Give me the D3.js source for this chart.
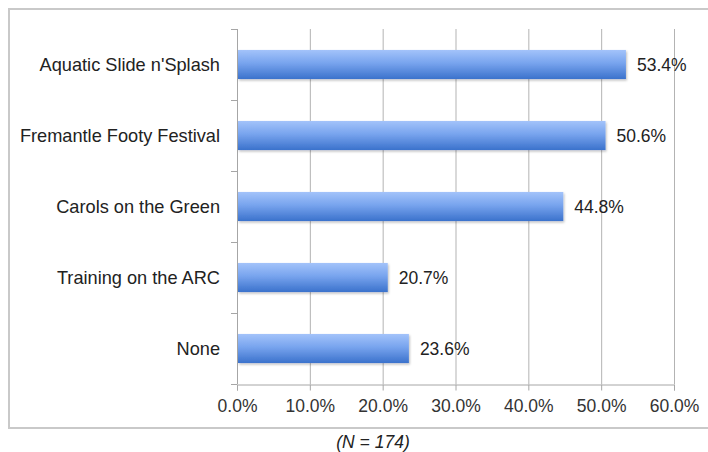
<!DOCTYPE html>
<html><head><meta charset="utf-8">
<script src="https://cdn.jsdelivr.net/npm/d3@7"></script>
<style>body{margin:0;background:#fff}text{font-family:"Liberation Sans",Arial,sans-serif}</style>
</head><body><svg id="c" width="708" height="452"></svg>
<script>
const categories = ["Aquatic Slide n'Splash","Fremantle Footy Festival","Carols on the Green","Training on the ARC","None"];
const values = [53.4, 50.6, 44.8, 20.7, 23.6];
const xTicks = [0,10,20,30,40,50,60];
const note = "(N = 174)";

const svg = d3.select("#c");
const m = {l:237, r:674, t:29, b:384};
const x = d3.scaleLinear().domain([0,60]).range([m.l,m.r]);
const y = d3.scaleBand().domain(categories).range([m.t,m.b]).paddingInner(0.59).paddingOuter(0.295);
const FS = 17.5;

const defs = svg.append("defs");
const g = defs.append("linearGradient").attr("id","bg").attr("x1",0).attr("y1",0).attr("x2",0).attr("y2",1);
g.append("stop").attr("offset","0%").attr("stop-color","#a3c3fa");
g.append("stop").attr("offset","45%").attr("stop-color","#78a4ee");
g.append("stop").attr("offset","100%").attr("stop-color","#3b72cc");
const f = defs.append("filter").attr("id","sh").attr("x","-5%").attr("y","-20%").attr("width","110%").attr("height","160%");
f.append("feDropShadow").attr("dx",1).attr("dy",1.5).attr("stdDeviation",1).attr("flood-color","#000").attr("flood-opacity",0.25);

// border
svg.append("rect").attr("x",9).attr("y",9).attr("width",710).attr("height",419)
  .attr("fill","none").attr("stroke","#c9c9c9").attr("stroke-width",2);

// gridlines
svg.append("g").selectAll("line").data(xTicks.slice(1)).join("line")
  .attr("x1",d=>x(d)+0.5).attr("x2",d=>x(d)+0.5).attr("y1",m.t).attr("y2",m.b)
  .attr("stroke","#b3b3b3").attr("stroke-width",1);

// x axis
const xa = svg.append("g").attr("transform",`translate(0,${m.b+0.5})`)
  .call(d3.axisBottom(x).tickValues(xTicks).tickFormat(d=>d.toFixed(1)+"%").tickSize(6).tickPadding(9));
xa.select(".domain").attr("stroke","#a6a6a6");
xa.selectAll(".tick line").attr("stroke","#a6a6a6");
xa.selectAll("text").attr("font-size",FS).attr("fill","#333").attr("font-family","Liberation Sans, Arial, sans-serif");

// y axis line and ticks at band boundaries
const yb = svg.append("g");
yb.append("line").attr("x1",m.l+0.5).attr("x2",m.l+0.5).attr("y1",m.t).attr("y2",m.b).attr("stroke","#a6a6a6");
const bounds = d3.range(categories.length+1).map(i=>m.t+i*(m.b-m.t)/categories.length);
yb.selectAll("line.t").data(bounds).join("line").attr("class","t")
  .attr("x1",m.l-6).attr("x2",m.l).attr("y1",d=>Math.round(d)+0.5).attr("y2",d=>Math.round(d)+0.5).attr("stroke","#a6a6a6");

// category labels
svg.append("g").selectAll("text").data(categories).join("text")
  .attr("x",220).attr("y",d=>y(d)+y.bandwidth()/2).attr("dy","0.35em")
  .attr("text-anchor","end").attr("font-size",18.2).attr("fill","#222").text(d=>d);

// bars
svg.append("g").selectAll("rect").data(values).join("rect")
  .attr("x",x(0)+1).attr("y",(d,i)=>y(categories[i]))
  .attr("width",d=>x(d)-x(0)-1).attr("height",y.bandwidth())
  .attr("fill","url(#bg)").attr("filter","url(#sh)");

// value labels
svg.append("g").selectAll("text").data(values).join("text")
  .attr("x",d=>x(d)+11).attr("y",(d,i)=>y(categories[i])+y.bandwidth()/2).attr("dy","0.35em")
  .attr("font-size",FS).attr("fill","#222").text(d=>d.toFixed(1)+"%");

svg.append("text").attr("x",373).attr("y",442).attr("dy","0.35em").attr("text-anchor","middle")
  .attr("font-size",17.5).attr("font-style","italic").attr("fill","#222").text(note);
</script></body></html>
